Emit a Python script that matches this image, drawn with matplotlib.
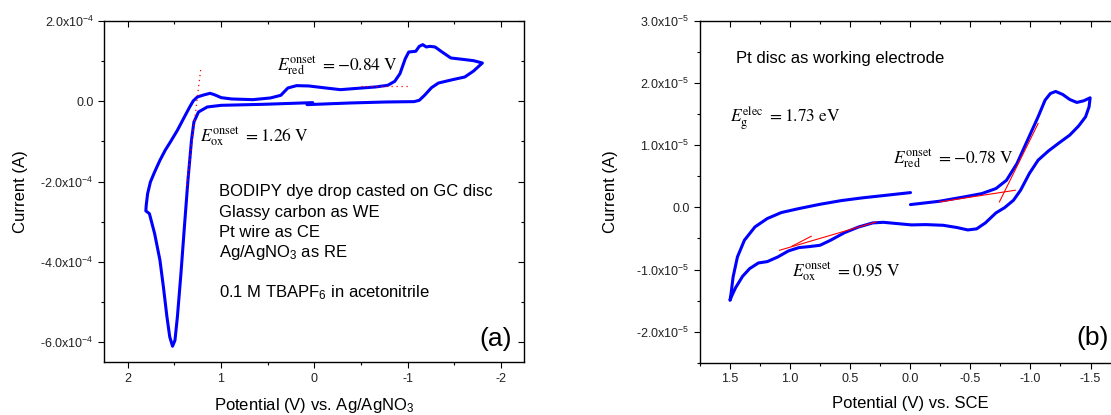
import numpy as np
import matplotlib
matplotlib.use("Agg")
import matplotlib.pyplot as plt
from matplotlib.ticker import MultipleLocator, FuncFormatter

# --- Panel (a): BODIPY film on GC, potential vs Ag/AgNO3 (V), current in 1e-4 A ---
cv_a_potential = [0.077, -0.393, -0.768, -1.069, -1.125, -1.181, -1.256, -1.331, -1.482, -1.613,
                  -1.707, -1.801, -1.707, -1.557, -1.463, -1.369, -1.294, -1.238, -1.200, -1.162,
                  -1.125, -1.087, -1.012, -0.975, -0.918, -0.862, -0.787, -0.655, -0.468, -0.280,
                  -0.092, 0.058, 0.190, 0.283, 0.359, 0.471, 0.659, 0.885, 0.997, 1.072,
                  1.117, 1.185, 1.253, 1.298, 1.335, 1.392, 1.467, 1.542, 1.598, 1.654,
                  1.711, 1.756, 1.786, 1.801, 1.805, 1.767, 1.711, 1.654, 1.617, 1.579,
                  1.549, 1.519, 1.493, 1.467, 1.429, 1.392, 1.354, 1.316, 1.290, 1.241,
                  1.147, 0.997, 0.546, 0.017]
cv_a_current = [-0.083, -0.041, -0.017, -0.008, 0.025, 0.149, 0.340, 0.456, 0.539, 0.606,
                0.755, 0.954, 1.012, 1.054, 1.079, 1.228, 1.353, 1.369, 1.353, 1.411,
                1.369, 1.245, 1.228, 1.062, 0.689, 0.498, 0.398, 0.357, 0.324, 0.290,
                0.340, 0.382, 0.390, 0.332, 0.149, 0.083, 0.041, 0.058, 0.091, 0.166,
                0.199, 0.158, 0.108, 0.008, -0.141, -0.390, -0.722, -1.012, -1.220, -1.469,
                -1.759, -2.008, -2.299, -2.589, -2.730, -2.797, -3.295, -3.958, -4.622, -5.369,
                -5.867, -6.100, -5.950, -5.369, -4.290, -3.129, -1.967, -0.971, -0.515, -0.266,
                -0.141, -0.100, -0.075, -0.033]

# onset tangents (dotted red)
tan_a_ox_v = [1.218, 1.372]
tan_a_ox_i = [0.78, -2.2]
tan_a_red_v = [-0.50, -1.00]
tan_a_red_i = [0.37, 0.37]

# --- Panel (b): Pt disc, potential vs SCE (V), current in 1e-5 A ---
cv_b_potential = [-0.002, -0.244, -0.449, -0.595, -0.713, -0.801, -0.888, -0.976, -1.064, -1.122,
                  -1.166, -1.210, -1.269, -1.327, -1.386, -1.444, -1.497, -1.488, -1.459, -1.400,
                  -1.327, -1.239, -1.151, -1.064, -0.991, -0.918, -0.859, -0.786, -0.713, -0.625,
                  -0.552, -0.479, -0.391, -0.274, -0.127, -0.010, 0.107, 0.224, 0.312, 0.429,
                  0.546, 0.663, 0.751, 0.839, 0.926, 1.014, 1.102, 1.190, 1.263, 1.336,
                  1.395, 1.453, 1.483, 1.500, 1.491, 1.474, 1.438, 1.380, 1.292, 1.190,
                  1.073, 0.926, 0.751, 0.575, 0.400, 0.224, -0.002]
cv_b_current = [0.045, 0.099, 0.169, 0.222, 0.303, 0.437, 0.706, 1.082, 1.458, 1.726,
                1.833, 1.866, 1.817, 1.737, 1.689, 1.716, 1.764, 1.619, 1.458, 1.308,
                1.163, 1.039, 0.910, 0.760, 0.545, 0.276, 0.115, -0.003, -0.089, -0.250,
                -0.346, -0.363, -0.325, -0.288, -0.277, -0.282, -0.261, -0.240, -0.250, -0.315,
                -0.406, -0.529, -0.610, -0.631, -0.647, -0.701, -0.798, -0.873, -0.894, -0.985,
                -1.109, -1.292, -1.415, -1.496, -1.388, -1.120, -0.798, -0.529, -0.314, -0.180,
                -0.083, -0.019, 0.050, 0.109, 0.153, 0.190, 0.238]

# onset tangents (solid red)
tan_b_lines = [
    ([1.087, 0.282], [-0.690, -0.233]),
    ([0.985, 0.824], [-0.626, -0.465]),
    ([-0.244, -0.874], [0.088, 0.276]),
    ([-0.742, -1.064], [0.088, 1.350]),
]

SANS = "Liberation Sans"
plt.rcParams['font.family'] = SANS
plt.rcParams['mathtext.fontset'] = 'custom'
plt.rcParams['mathtext.rm'] = SANS
plt.rcParams['mathtext.it'] = SANS + ':italic'
plt.rcParams['mathtext.bf'] = SANS + ':bold'

TXT = 12


def sci_label(exp):
    def fmt(v, pos):
        m = v / 10.0 ** exp
        if abs(m) < 1e-9:
            return "0.0"
        return "%.1fx10$^{%d}$" % (m, exp)
    return FuncFormatter(fmt)


def style_axes(ax):
    ax.tick_params(which='both', top=True, right=True, labelsize=9, width=0.8,
                   direction='out', labelcolor='#222222')
    ax.tick_params(which='major', length=4)
    ax.tick_params(which='minor', length=2.5)
    # Origin style: mirrored ticks point inward
    for t in ax.xaxis.get_major_ticks() + ax.xaxis.get_minor_ticks():
        t.tick2line.set_marker(3)
    for t in ax.yaxis.get_major_ticks() + ax.yaxis.get_minor_ticks():
        t.tick2line.set_marker(0)
    for s in ax.spines.values():
        s.set_linewidth(1.0)


def etext(ax, x, y, s):
    ax.text(x, y, s, fontsize=12.5, math_fontfamily='stix', va='center', ha='left')


fig = plt.figure(figsize=(11.11, 4.15), dpi=100)

# --- Panel (a) ---
ax1 = fig.add_axes([0.0939, 0.127, 0.378, 0.8224])
ax1.plot(cv_a_potential, np.array(cv_a_current) * 1e-4, color='#0000ff', lw=2.2, solid_capstyle='round')
ax1.plot(tan_a_ox_v, np.array(tan_a_ox_i) * 1e-4, color='red', lw=0.9, ls=(0, (1, 3)))
ax1.plot(tan_a_red_v, np.array(tan_a_red_i) * 1e-4, color='red', lw=0.9, ls=(0, (1, 3)))
ax1.set_xlim(2.25, -2.25)
ax1.set_ylim(-6.5e-4, 2e-4)
ax1.xaxis.set_major_locator(MultipleLocator(1))
ax1.xaxis.set_minor_locator(MultipleLocator(0.5))
ax1.yaxis.set_major_locator(MultipleLocator(2e-4))
ax1.yaxis.set_minor_locator(MultipleLocator(1e-4))
ax1.xaxis.set_major_formatter(FuncFormatter(lambda v, p: "%g" % v if abs(v) > 1e-9 else "0"))
ax1.yaxis.set_major_formatter(sci_label(-4))
style_axes(ax1)
ax1.set_xlabel("Potential (V) vs. Ag/AgNO$_3$", fontsize=TXT, labelpad=8)
ax1.set_ylabel("Current (A)", fontsize=TXT, labelpad=9)

etext(ax1, 0.40, 0.9e-4, r"$E_{\rm red}^{\rm onset}\ = \mathrm{-0.84\ V}$")
etext(ax1, 1.23, -0.87e-4, r"$E_{\rm ox}^{\rm onset}\ = \mathrm{1.26\ V}$")
info_lines = ["BODIPY dye drop casted on GC disc", "Glassy carbon as WE", "Pt wire as CE",
              "Ag/AgNO$_3$ as RE", "", "0.1 M TBAPF$_6$ in acetonitrile"]
for k, line in enumerate(info_lines):
    ax1.text(1.016, -2.257e-4 - k * 0.5e-4, line, fontsize=TXT, va='center', ha='left')
ax1.text(-1.94, -5.91e-4, "(a)", fontsize=19, ha='center', va='center')

# --- Panel (b) ---
ax2 = fig.add_axes([0.630, 0.126, 0.3786, 0.8234])
ax2.plot(cv_b_potential, np.array(cv_b_current) * 1e-5, color='#0000ff', lw=2.2, solid_capstyle='round')
for xs, ys in tan_b_lines:
    ax2.plot(xs, np.array(ys) * 1e-5, color='red', lw=0.8)
ax2.set_xlim(1.75, -1.75)
ax2.set_ylim(-2.5e-5, 3e-5)
ax2.xaxis.set_major_locator(MultipleLocator(0.5))
ax2.xaxis.set_minor_locator(MultipleLocator(0.25))
ax2.yaxis.set_major_locator(MultipleLocator(1e-5))
ax2.yaxis.set_minor_locator(MultipleLocator(0.5e-5))
ax2.xaxis.set_major_formatter(FuncFormatter(lambda v, p: "%.1f" % v if abs(v) > 1e-9 else "0.0"))
ax2.yaxis.set_major_formatter(sci_label(-5))
style_axes(ax2)
ax2.set_xlabel("Potential (V) vs. SCE", fontsize=TXT, labelpad=8)
ax2.set_ylabel("Current (A)", fontsize=TXT, labelpad=13)

ax2.text(1.453, 2.40e-5, "Pt disc as working electrode", fontsize=TXT, va='center', ha='left')
etext(ax2, 1.497, 1.43e-5, r"$E_{\rm g}^{\rm elec}\ = \mathrm{1.73\ eV}$")
etext(ax2, 0.142, 0.786e-5, r"$E_{\rm red}^{\rm onset}\ = \mathrm{-0.78\ V}$")
etext(ax2, 0.985, -1.04e-5, r"$E_{\rm ox}^{\rm onset}\ = \mathrm{0.95\ V}$")
ax2.text(-1.38, -2.11e-5, "(b)", fontsize=19, ha='left', va='center')

fig.savefig("out.png", dpi=100)
